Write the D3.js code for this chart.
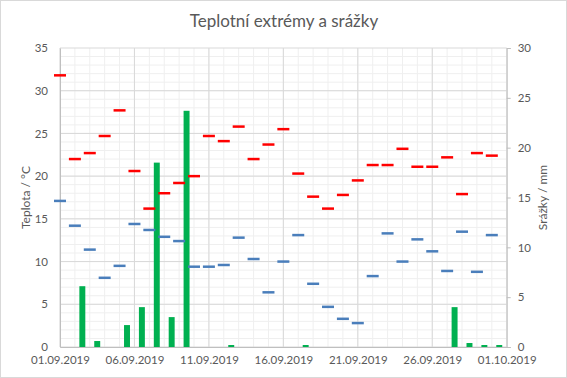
<!DOCTYPE html>
<html>
<head>
<meta charset="utf-8">
<script src="https://cdn.jsdelivr.net/npm/d3@7"></script>
<style>
  body { margin: 0; background: #fff; }
  text { font-family: Lato, "Open Sans", sans-serif; fill: #595959; }
</style>
</head>
<body>
<div id="chart"></div>
<script>
// dny v září 2019
const days = [
  "01.09.2019", "02.09.2019", "03.09.2019", "04.09.2019", "05.09.2019",
  "06.09.2019", "07.09.2019", "08.09.2019", "09.09.2019", "10.09.2019",
  "11.09.2019", "12.09.2019", "13.09.2019", "14.09.2019", "15.09.2019",
  "16.09.2019", "17.09.2019", "18.09.2019", "19.09.2019", "20.09.2019",
  "21.09.2019", "22.09.2019", "23.09.2019", "24.09.2019", "25.09.2019",
  "26.09.2019", "27.09.2019", "28.09.2019", "29.09.2019", "30.09.2019"
];
// maximální teplota (°C)
const tMax = [
  31.8, 22.0, 22.7, 24.7, 27.7, 20.6, 16.2, 18.0, 19.2, 20.0,
  24.7, 24.1, 25.8, 22.0, 23.7, 25.5, 20.3, 17.6, 16.2, 17.8,
  19.5, 21.3, 21.3, 23.2, 21.1, 21.1, 22.2, 17.9, 22.7, 22.4
];
// minimální teplota (°C)
const tMin = [
  17.1, 14.2, 11.4, 8.1, 9.5, 14.4, 13.7, 12.9, 12.4, 9.4,
  9.4, 9.6, 12.8, 10.3, 6.4, 10.0, 13.1, 7.4, 4.7, 3.3,
  2.8, 8.3, 13.3, 10.0, 12.6, 11.2, 8.9, 13.5, 8.8, 13.1
];
// srážky (mm)
const rain = [
  0, 6.1, 0.6, 0, 2.2, 4.0, 18.5, 3.0, 23.7, 0,
  0, 0.2, 0, 0, 0, 0, 0.2, 0, 0, 0,
  0, 0, 0, 0, 0, 0, 4.0, 0.4, 0.2, 0.2
];
// popisky osy X
const xTicks = ["01.09.2019", "06.09.2019", "11.09.2019", "16.09.2019", "21.09.2019", "26.09.2019", "01.10.2019"];
const yLeftTicks = [0, 5, 10, 15, 20, 25, 30, 35];
const yRightTicks = [0, 5, 10, 15, 20, 25, 30];

const width = 567;
const height = 378;
const plot = { left: 60, right: 506.7, top: 48, bottom: 347 };

const parse = d3.timeParse("%d.%m.%Y");
const dates = days.map(parse);

const x = d3.scaleTime()
  .domain([parse("01.09.2019"), parse("01.10.2019")])
  .range([plot.left, plot.right]);

// srážky jsou kreslené mezi dny
const xBand = d3.scaleBand()
  .domain(days)
  .range([plot.left, plot.right])
  .paddingInner(0.6)
  .paddingOuter(0.3);

const yT = d3.scaleLinear().domain([0, 35]).range([plot.bottom, plot.top]);
const yR = d3.scaleLinear().domain([0, 30]).range([plot.bottom, plot.top]);

const svg = d3.select("#chart").append("svg")
  .attr("width", width)
  .attr("height", height);

// rámeček grafu
svg.append("rect")
  .attr("x", 0.5).attr("y", 0.5)
  .attr("width", width - 1).attr("height", height - 1)
  .style("fill", "#fff")
  .style("stroke", "#d9d9d9");

// titulek
svg.append("text")
  .attr("x", 284).attr("y", 27)
  .attr("text-anchor", "middle")
  .style("font-size", "17px")
  .text("Teplotní extrémy a srážky");

// mřížka - vedlejší
const grid = svg.append("g");
grid.selectAll(".vminor")
  .data(d3.timeDay.range(x.domain()[0], x.domain()[1]))
  .enter().append("line")
  .attr("x1", (d) => x(d)).attr("x2", (d) => x(d))
  .attr("y1", plot.top).attr("y2", plot.bottom)
  .style("stroke", "#efefef");
grid.selectAll(".hminor")
  .data(d3.range(1, 35))
  .enter().append("line")
  .attr("x1", plot.left).attr("x2", plot.right)
  .attr("y1", (d) => yT(d)).attr("y2", (d) => yT(d))
  .style("stroke", "#efefef");

// mřížka - hlavní
grid.selectAll(".vmajor")
  .data(xTicks.map(parse))
  .enter().append("line")
  .attr("x1", (d) => x(d)).attr("x2", (d) => x(d))
  .attr("y1", plot.top).attr("y2", plot.bottom)
  .style("stroke", "#d9d9d9");
grid.selectAll(".hmajor")
  .data(yLeftTicks)
  .enter().append("line")
  .attr("x1", plot.left).attr("x2", plot.right)
  .attr("y1", (d) => yT(d)).attr("y2", (d) => yT(d))
  .style("stroke", "#d9d9d9");

// osy
const axisLeft = svg.append("g")
  .attr("transform", `translate(${plot.left},0)`)
  .call(d3.axisLeft(yT).tickValues(yLeftTicks).tickSize(0).tickPadding(12));
const axisRight = svg.append("g")
  .attr("transform", `translate(${plot.right},0)`)
  .call(d3.axisRight(yR).tickValues(yRightTicks).tickSize(4).tickPadding(7));
const axisBottom = svg.append("g")
  .attr("transform", `translate(0,${plot.bottom})`)
  .call(d3.axisBottom(x).tickValues(xTicks.map(parse)).tickSize(0).tickPadding(9)
    .tickFormat(d3.timeFormat("%d.%m.%Y")));

[axisLeft, axisRight, axisBottom].forEach((a) => {
  a.select(".domain").style("stroke", "#bfbfbf");
  a.selectAll(".tick line").style("stroke", "#bfbfbf");
  a.selectAll(".tick text")
    .style("font-family", "Lato, sans-serif")
    .style("font-size", "11.5px")
    .style("fill", "#595959");
});

// popisky os
svg.append("text")
  .attr("transform", `translate(27,${(plot.top + plot.bottom) / 2}) rotate(-90)`)
  .attr("text-anchor", "middle")
  .attr("dominant-baseline", "middle")
  .style("font-size", "12px")
  .text("Teplota / °C");
svg.append("text")
  .attr("transform", `translate(544,${(plot.top + plot.bottom) / 2}) rotate(-90)`)
  .attr("text-anchor", "middle")
  .attr("dominant-baseline", "middle")
  .style("font-size", "12px")
  .text("Srážky / mm");

// sloupce srážek
svg.selectAll(".bar")
  .data(rain.map((v, i) => ({ day: days[i], value: v })).filter((d) => d.value > 0))
  .enter().append("rect")
  .attr("class", "bar")
  .attr("x", (d) => xBand(d.day))
  .attr("y", (d) => yR(d.value))
  .attr("width", xBand.bandwidth())
  .attr("height", (d) => yR(0) - yR(d.value))
  .style("fill", "#00b050");

// značky teplot
const dash = 12;
svg.selectAll(".tmax")
  .data(tMax.map((v, i) => ({ date: dates[i], value: v })))
  .enter().append("line")
  .attr("x1", (d) => x(d.date) - dash / 2)
  .attr("x2", (d) => x(d.date) + dash / 2)
  .attr("y1", (d) => yT(d.value))
  .attr("y2", (d) => yT(d.value))
  .style("stroke", "#ff0000")
  .style("stroke-width", 2.5);

svg.selectAll(".tmin")
  .data(tMin.map((v, i) => ({ date: dates[i], value: v })))
  .enter().append("line")
  .attr("x1", (d) => x(d.date) - dash / 2)
  .attr("x2", (d) => x(d.date) + dash / 2)
  .attr("y1", (d) => yT(d.value))
  .attr("y2", (d) => yT(d.value))
  .style("stroke", "#4a7ebb")
  .style("stroke-width", 2.5);
</script>
</body>
</html>
